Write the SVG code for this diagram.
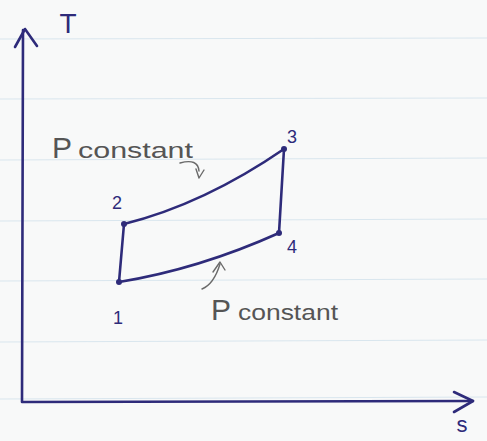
<svg xmlns="http://www.w3.org/2000/svg" width="487" height="441" viewBox="0 0 487 441">
  <style>
    .ink{stroke:#2e2b7a;stroke-width:2.6;fill:none;stroke-linecap:round;stroke-linejoin:round}
    .pencil{stroke:#6a6a6a;stroke-width:1.4;fill:none;stroke-linecap:round;stroke-linejoin:round}
    .rule{stroke:#d9e6ee;stroke-width:1.2}
    .dot{fill:#2e2b7a}
    .num{font-family:"Liberation Sans",Arial,sans-serif;font-size:18px;fill:#2e2b7a}
    .lbl{font-family:"Liberation Sans",Arial,sans-serif;fill:#555;font-weight:300}
  </style>
  <rect width="487" height="441" fill="#f8f9f9"/>
  <g id="paper-rules">
    <line class="rule" x1="0" y1="39" x2="487" y2="38"/>
    <line class="rule" x1="0" y1="99" x2="487" y2="98"/>
    <line class="rule" x1="0" y1="160" x2="487" y2="158"/>
    <line class="rule" x1="0" y1="221" x2="487" y2="219"/>
    <line class="rule" x1="0" y1="281" x2="487" y2="279"/>
    <line class="rule" x1="0" y1="342" x2="487" y2="340"/>
    <line class="rule" x1="0" y1="399" x2="487" y2="397"/>
  </g>
  <g id="axes">
    <path class="ink" d="M23,30 L22,402 L473,401"/>
    <path class="ink" d="M15,47 L25,29 L37,46"/>
    <path class="ink" d="M454,392 L473,401 L454,412"/>
    <text x="68" y="33" font-family="Liberation Sans,Arial,sans-serif" font-size="28" fill="#2e2b7a" text-anchor="middle">T</text>
    <text x="462" y="432" font-family="Liberation Sans,Arial,sans-serif" font-size="22" fill="#2e2b7a" text-anchor="middle">s</text>
  </g>
  <g id="connectors">
    <path class="ink" d="M119,282 L124,224"/>
    <path class="ink" d="M124,224 Q204,204 284,149"/>
    <path class="ink" d="M284,149 L279,233"/>
    <path class="ink" d="M279,233 Q199,269 119,282"/>
    <path class="pencil" d="M180,163 Q198,158 199,171"/>
    <path class="pencil" d="M196,169 L199,178 L204,170"/>
    <path class="pencil" d="M202,289 Q214,284 220,264"/>
    <path class="pencil" d="M213,272 L220,262 L225,270"/>
  </g>
  <g id="node-1">
    <circle class="dot" cx="119" cy="282" r="3"/>
    <text class="num" x="118" y="324" text-anchor="middle">1</text>
  </g>
  <g id="node-2">
    <circle class="dot" cx="124" cy="224" r="3"/>
    <text class="num" x="117" y="209" text-anchor="middle">2</text>
  </g>
  <g id="node-3">
    <circle class="dot" cx="284" cy="149" r="3"/>
    <text class="num" x="292" y="143" text-anchor="middle">3</text>
  </g>
  <g id="node-4">
    <circle class="dot" cx="279" cy="233" r="3"/>
    <text class="num" x="292" y="253" text-anchor="middle">4</text>
  </g>
  <g id="label-upper">
    <text class="lbl" x="52" y="158" font-size="30">P</text>
    <text class="lbl" x="78" y="158" font-size="22" textLength="115" lengthAdjust="spacingAndGlyphs">constant</text>
  </g>
  <g id="label-lower">
    <text class="lbl" x="211" y="320" font-size="30">P</text>
    <text class="lbl" x="238" y="320" font-size="22" textLength="100" lengthAdjust="spacingAndGlyphs">constant</text>
  </g>
</svg>
